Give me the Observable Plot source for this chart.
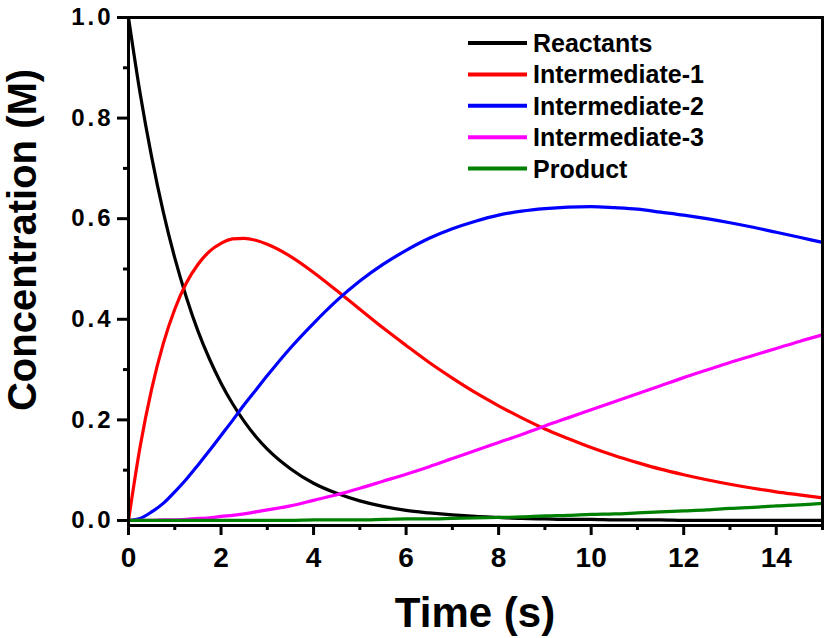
<!DOCTYPE html>
<html>
<head>
<meta charset="utf-8">
<script src="https://cdn.jsdelivr.net/npm/d3@7"></script>
<script src="https://cdn.jsdelivr.net/npm/@observablehq/plot@0.6"></script>
<style>
  html, body { margin: 0; padding: 0; background: #ffffff; }
  #chart { width: 828px; height: 638px; }
</style>
</head>
<body>
<div id="chart"></div>
<script>
// ---- data ----
const time = [0, 0.25, 0.5, 0.75, 1, 1.25, 1.5, 1.75, 2, 2.25, 2.5, 2.75, 3, 3.5, 4, 4.5, 5, 5.5, 6, 6.5, 7, 7.5, 8, 8.5, 9, 9.5, 10, 10.5, 11, 11.5, 12, 12.5, 13, 13.5, 14, 14.5, 15];
const reactants = [1, 0.850, 0.723, 0.614, 0.522, 0.444, 0.377, 0.321, 0.273, 0.232, 0.197, 0.167, 0.142, 0.103, 0.074, 0.054, 0.039, 0.028, 0.020, 0.015, 0.011, 0.008, 0.006, 0.004, 0.003, 0.002, 0.002, 0.001, 0.001, 0.001, 0, 0, 0, 0, 0, 0, 0];
const intermediate1 = [0, 0.146, 0.261, 0.351, 0.420, 0.472, 0.509, 0.535, 0.551, 0.560, 0.561, 0.557, 0.549, 0.525, 0.493, 0.457, 0.420, 0.383, 0.348, 0.314, 0.283, 0.254, 0.228, 0.204, 0.182, 0.163, 0.145, 0.129, 0.115, 0.102, 0.091, 0.081, 0.072, 0.064, 0.057, 0.051, 0.045];
const intermediate2 = [0, 0.004, 0.017, 0.034, 0.057, 0.082, 0.110, 0.139, 0.169, 0.199, 0.230, 0.259, 0.288, 0.343, 0.392, 0.437, 0.476, 0.509, 0.537, 0.561, 0.580, 0.595, 0.607, 0.615, 0.620, 0.623, 0.624, 0.622, 0.619, 0.613, 0.607, 0.600, 0.592, 0.583, 0.573, 0.563, 0.553];
const intermediate3 = [0, 0, 0, 0.001, 0.001, 0.002, 0.004, 0.005, 0.008, 0.010, 0.013, 0.017, 0.021, 0.029, 0.040, 0.051, 0.064, 0.078, 0.092, 0.107, 0.123, 0.139, 0.155, 0.171, 0.188, 0.204, 0.220, 0.236, 0.252, 0.268, 0.284, 0.299, 0.314, 0.328, 0.342, 0.356, 0.369];
const product = [0, 0, 0, 0, 0, 0, 0, 0, 0, 0, 0, 0, 0, 0, 0.001, 0.001, 0.001, 0.002, 0.003, 0.003, 0.004, 0.005, 0.006, 0.007, 0.009, 0.010, 0.012, 0.013, 0.015, 0.017, 0.019, 0.021, 0.024, 0.026, 0.029, 0.031, 0.034];

const seriesNames = ["Reactants", "Intermediate-1", "Intermediate-2", "Intermediate-3", "Product"];
const seriesValues = [reactants, intermediate1, intermediate2, intermediate3, product];
const seriesColors = ["#000000", "#ff0000", "#0000ff", "#ff00ff", "#008000"];

const xMajorTicks = [0, 2, 4, 6, 8, 10, 12, 14];
const xMinorTicks = [1, 3, 5, 7, 9, 11, 13, 15];
const yMajorTicks = [0.0, 0.2, 0.4, 0.6, 0.8, 1.0];
const yMinorTicks = [0.1, 0.3, 0.5, 0.7, 0.9];

const xTitle = "Time (s)";
const yTitle = "Concentration (M)";

// long-format table built from the arrays
const rows = [];
seriesNames.forEach((name, s) => {
  time.forEach((t, i) => rows.push({series: name, t, v: seriesValues[s][i]}));
});

const FONT = "'Liberation Sans', Arial, Helvetica, sans-serif";

const chart = Plot.plot({
  width: 828,
  height: 638,
  marginLeft: 128,
  marginRight: 6,
  marginTop: 17,
  marginBottom: 113,
  style: {fontFamily: FONT, fontWeight: "bold", background: "#ffffff", color: "#000000", overflow: "visible"},
  x: {domain: [0, 15]},
  y: {domain: [-0.01, 1]},
  color: {domain: seriesNames, range: seriesColors},
  marks: [
    Plot.line(rows, {x: "t", y: "v", z: "series", stroke: "series", strokeWidth: 3.2, curve: "monotone-x"}),
    Plot.frame({stroke: "#000000", strokeWidth: 3}),
    Plot.axisX({ticks: xMajorTicks, tickSize: 10, tickPadding: 12, tickFormat: d => String(d), fontSize: 28, label: null}),
    Plot.axisX({ticks: xMinorTicks, tickSize: 5, tickFormat: () => "", label: null}),
    Plot.axisY({ticks: yMajorTicks, tickSize: 11, tickPadding: 4, tickFormat: d => d.toFixed(1), fontSize: 24, label: null}),
    Plot.axisY({ticks: yMinorTicks, tickSize: 5, tickFormat: () => "", label: null})
  ]
});

document.getElementById("chart").appendChild(chart);

const svg = d3.select(chart);
svg.selectAll('g[aria-label="y-axis tick label"] text').attr("letter-spacing", "3px");
svg.selectAll('g[aria-label="x-axis tick"], g[aria-label="y-axis tick"]')
  .attr("stroke-width", 3).attr("stroke", "#000000")
  .selectAll("path").attr("stroke-width", 3);

// axis titles
svg.append("text")
  .attr("x", 475).attr("y", 627)
  .attr("text-anchor", "middle")
  .attr("font-family", FONT).attr("font-weight", "bold").attr("font-size", 42)
  .attr("fill", "#000000")
  .text(xTitle);

svg.append("text")
  .attr("transform", "translate(36,240) rotate(-90)")
  .attr("text-anchor", "middle")
  .attr("font-family", FONT).attr("font-weight", "bold").attr("font-size", 40)
  .attr("fill", "#000000")
  .text(yTitle);

// legend
const legend = svg.append("g").attr("aria-label", "legend");
seriesNames.forEach((name, i) => {
  const y = 43 + i * 31.4;
  legend.append("line")
    .attr("x1", 468).attr("x2", 527).attr("y1", y).attr("y2", y)
    .attr("stroke", seriesColors[i]).attr("stroke-width", 4);
  legend.append("text")
    .attr("x", 533).attr("y", y + 9)
    .attr("text-anchor", "start")
    .attr("font-family", FONT).attr("font-weight", "bold").attr("font-size", 25)
    .attr("fill", "#000000")
    .text(name);
});
</script>
</body>
</html>
